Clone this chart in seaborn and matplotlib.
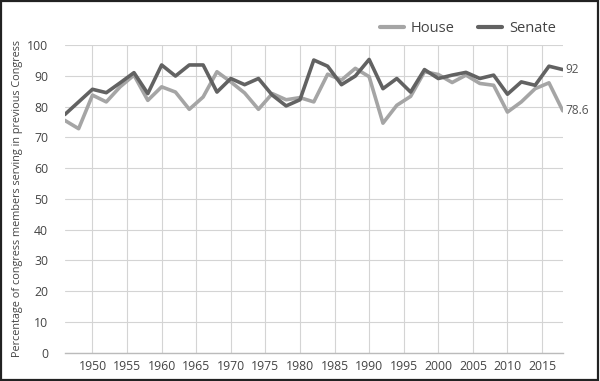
import numpy as np
import pandas as pd
import matplotlib
matplotlib.use("Agg")
import matplotlib.pyplot as plt
import seaborn as sns

years = list(range(1946, 2019, 2))
house = [75.5, 72.8, 83.7, 81.5, 86.4, 90.2, 82.0, 86.4, 84.7, 79.1, 83.1, 91.3,
         88.0, 84.4, 79.1, 84.2, 82.2, 82.9, 81.5, 90.5, 88.6, 92.4, 89.7, 74.6,
         80.4, 83.3, 91.3, 90.4, 87.8, 90.2, 87.5, 86.9, 78.2, 81.5, 85.8, 87.7, 78.6]
senate = [77.4, 81.5, 85.6, 84.5, 87.7, 91.0, 84.2, 93.5, 89.9, 93.5, 93.5, 84.7,
          89.1, 87.1, 89.1, 83.7, 80.2, 82.2, 95.1, 93.1, 87.1, 89.9, 95.3, 85.8,
          89.1, 84.7, 92.0, 89.1, 90.2, 91.1, 89.1, 90.2, 84.0, 88.0, 86.9, 93.1, 92.0]
series_names = ["House", "Senate"]
xticks = list(range(1950, 2016, 5))
yticks = list(range(0, 101, 10))

df = pd.DataFrame({"year": years * 2,
                   "value": house + senate,
                   "chamber": ["House"] * len(years) + ["Senate"] * len(years)})

sns.set_theme(style="white")
plt.rcParams['font.family'] = ['Open Sans', 'DejaVu Sans']

fig = plt.figure(figsize=(6, 3.81), dpi=100)
ax = fig.add_axes([0.108, 0.074, 0.83, 0.808])

palette = {"House": "#a5a5a5", "Senate": "#626262"}
sns.lineplot(data=df, x="year", y="value", hue="chamber", palette=palette,
             linewidth=2.6, ax=ax, legend=False)

ax.set_xlim(1946, 2018)
ax.set_ylim(0, 100)
ax.set_xticks(xticks)
ax.set_yticks(yticks)
ax.grid(True, color="#d4d4d4", linewidth=0.8)
ax.set_axisbelow(True)
for s in ["top", "right", "left"]:
    ax.spines[s].set_visible(False)
ax.spines["bottom"].set_color("#bbbbbb")
ax.spines["bottom"].set_linewidth(1.0)
ax.tick_params(axis="x", direction="in", length=3, color="#bbbbbb", labelsize=8.8,
               labelcolor="#444444", pad=5)
ax.tick_params(axis="y", length=0, labelsize=8.8, labelcolor="#444444", pad=12)
ax.set_xlabel("")
ax.set_ylabel("Percentage of congress members serving in previous Congress",
              fontsize=7.8, color="#444444", labelpad=3)

ax.annotate(f"{senate[-1]:g}", xy=(years[-1], senate[-1]), xytext=(2, 0),
            textcoords="offset points", va="center", ha="left",
            fontsize=8.6, color="#555555", annotation_clip=False)
ax.annotate(f"{house[-1]:g}", xy=(years[-1], house[-1]), xytext=(2, 0),
            textcoords="offset points", va="center", ha="left",
            fontsize=8.6, color="#555555", annotation_clip=False)

from matplotlib.lines import Line2D
handles = [Line2D([0], [0], color=palette[n], lw=3) for n in series_names]
fig.legend(handles, series_names, loc="upper right", bbox_to_anchor=(0.948, 0.98),
           ncol=2, frameon=False, fontsize=10.5, handlelength=1.6,
           columnspacing=1.6, handletextpad=0.5, labelcolor="#444444")

fig.patches.append(plt.Rectangle((0.002, 0.003), 0.995, 0.994, transform=fig.transFigure,
                                 fill=False, edgecolor="#222222", linewidth=1.6))
fig.savefig("out.png", dpi=100)
